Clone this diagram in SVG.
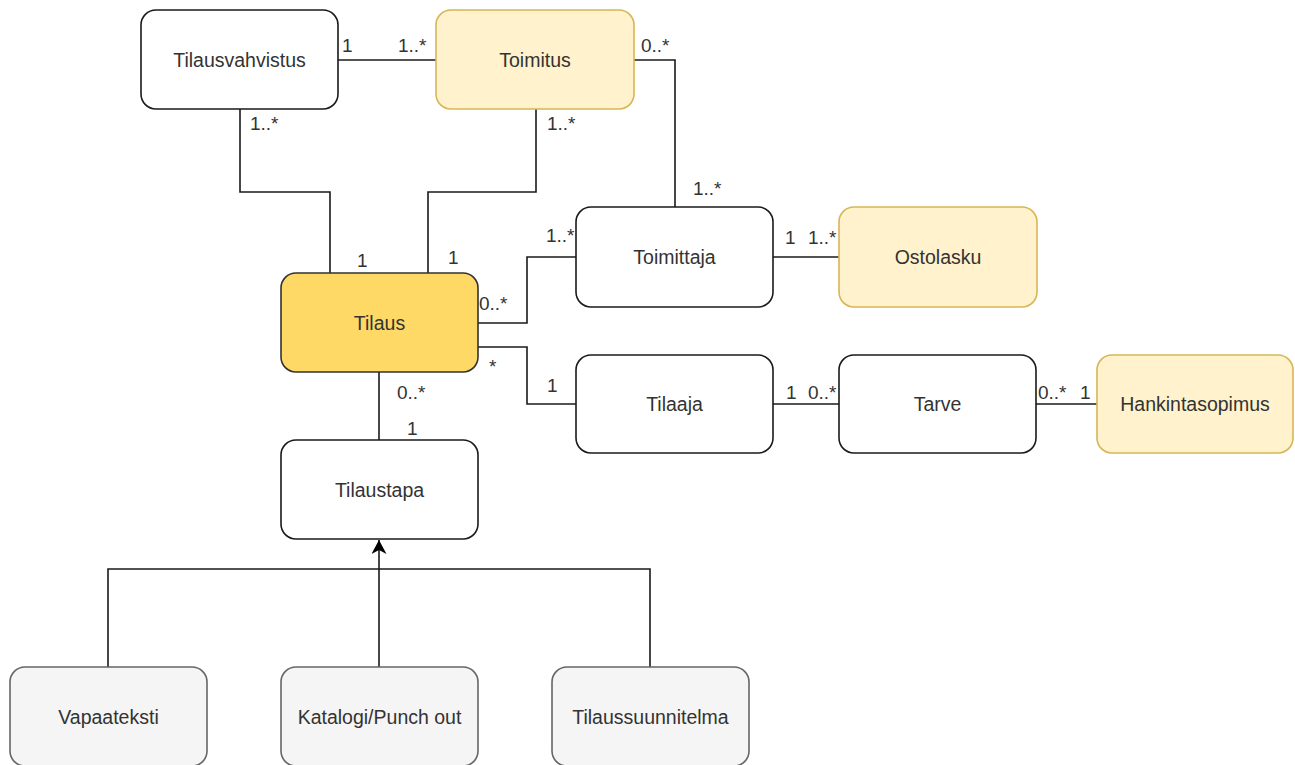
<svg xmlns="http://www.w3.org/2000/svg" width="1295" height="765" viewBox="0 0 1295 765">
  <style>
    .box { stroke-width: 1.6; }
    .plain { fill: #ffffff; stroke: #1a1a1a; }
    .light { fill: #fff2cc; stroke: #d6b656; }
    .main { fill: #ffd966; stroke: #333333; }
    .sub { fill: #f5f5f5; stroke: #666666; }
    .name { font-family: "Liberation Sans", Arial, sans-serif; font-size: 19.5px; fill: #333333; text-anchor: middle; }
    .mult { font-family: "Liberation Sans", Arial, sans-serif; font-size: 19px; fill: #333333; }
    .edge { fill: none; stroke: #1a1a1a; stroke-width: 1.6; }
  </style>
  <defs>
    <marker id="arrowHead" markerUnits="userSpaceOnUse" viewBox="0 0 14 15" refX="14" refY="7.5" markerWidth="14" markerHeight="15" orient="auto">
      <path d="M14 7.5 L0 0 L4 7.5 L0 15 Z" fill="#000000"/>
    </marker>
  </defs>
  <rect width="1295" height="765" fill="#ffffff"/>

  <!-- connectors -->
  <g id="connectors">
    <path class="edge" d="M338 60 H436"/>
    <path class="edge" d="M240 109 V192 H330 V273"/>
    <path class="edge" d="M536 109 V192 H428 V273"/>
    <path class="edge" d="M634 60 H675 V207"/>
    <path class="edge" d="M478 323 H527 V257 H576"/>
    <path class="edge" d="M478 347 H527 V404 H576"/>
    <path class="edge" d="M773 257 H839"/>
    <path class="edge" d="M773 404 H839"/>
    <path class="edge" d="M1036 404 H1097"/>
    <path class="edge" d="M379 372 V440"/>
    <path class="edge" d="M379 667 V540" marker-end="url(#arrowHead)"/>
    <path class="edge" d="M108 667 V569 H650 V667"/>
  </g>

  <!-- multiplicities -->
  <g id="multiplicities">
    <text class="mult" x="342" y="52">1</text>
    <text class="mult" x="398" y="52">1..*</text>
    <text class="mult" x="641" y="52">0..*</text>
    <text class="mult" x="250" y="130">1..*</text>
    <text class="mult" x="547" y="130">1..*</text>
    <text class="mult" x="357" y="267">1</text>
    <text class="mult" x="448" y="264">1</text>
    <text class="mult" x="693" y="195">1..*</text>
    <text class="mult" x="546" y="242">1..*</text>
    <text class="mult" x="479" y="310">0..*</text>
    <text class="mult" x="785" y="244">1</text>
    <text class="mult" x="808" y="244">1..*</text>
    <text class="mult" x="489" y="373">*</text>
    <text class="mult" x="547" y="392">1</text>
    <text class="mult" x="397" y="399">0..*</text>
    <text class="mult" x="407" y="435">1</text>
    <text class="mult" x="786" y="399">1</text>
    <text class="mult" x="808" y="399">0..*</text>
    <text class="mult" x="1038" y="399">0..*</text>
    <text class="mult" x="1080" y="399">1</text>
  </g>

  <!-- nodes -->
  <g id="tilausvahvistus">
    <rect class="box plain" x="141" y="10" width="197" height="99" rx="15"/>
    <text class="name" x="239.5" y="66.5">Tilausvahvistus</text>
  </g>
  <g id="toimitus">
    <rect class="box light" x="436" y="10" width="198" height="99" rx="15"/>
    <text class="name" x="535" y="66.5">Toimitus</text>
  </g>
  <g id="tilaus">
    <rect class="box main" x="281" y="273" width="197" height="99" rx="15"/>
    <text class="name" x="379.5" y="329.5">Tilaus</text>
  </g>
  <g id="toimittaja">
    <rect class="box plain" x="576" y="207" width="197" height="100" rx="15"/>
    <text class="name" x="674.5" y="264">Toimittaja</text>
  </g>
  <g id="ostolasku">
    <rect class="box light" x="839" y="207" width="198" height="100" rx="15"/>
    <text class="name" x="938" y="264">Ostolasku</text>
  </g>
  <g id="tilaaja">
    <rect class="box plain" x="576" y="355" width="197" height="98" rx="15"/>
    <text class="name" x="674.5" y="411">Tilaaja</text>
  </g>
  <g id="tarve">
    <rect class="box plain" x="839" y="355" width="197" height="98" rx="15"/>
    <text class="name" x="937.5" y="411">Tarve</text>
  </g>
  <g id="hankintasopimus">
    <rect class="box light" x="1097" y="355" width="196" height="98" rx="15"/>
    <text class="name" x="1195" y="411">Hankintasopimus</text>
  </g>
  <g id="tilaustapa">
    <rect class="box plain" x="281" y="440" width="197" height="99" rx="15"/>
    <text class="name" x="379.5" y="496.5">Tilaustapa</text>
  </g>
  <g id="vapaateksti">
    <rect class="box sub" x="10" y="667" width="197" height="99" rx="15"/>
    <text class="name" x="108.5" y="723.5">Vapaateksti</text>
  </g>
  <g id="katalogi">
    <rect class="box sub" x="281" y="667" width="197" height="99" rx="15"/>
    <text class="name" x="379.5" y="723.5">Katalogi/Punch out</text>
  </g>
  <g id="tilaussuunnitelma">
    <rect class="box sub" x="552" y="667" width="197" height="99" rx="15"/>
    <text class="name" x="650.5" y="723.5">Tilaussuunnitelma</text>
  </g>
</svg>
